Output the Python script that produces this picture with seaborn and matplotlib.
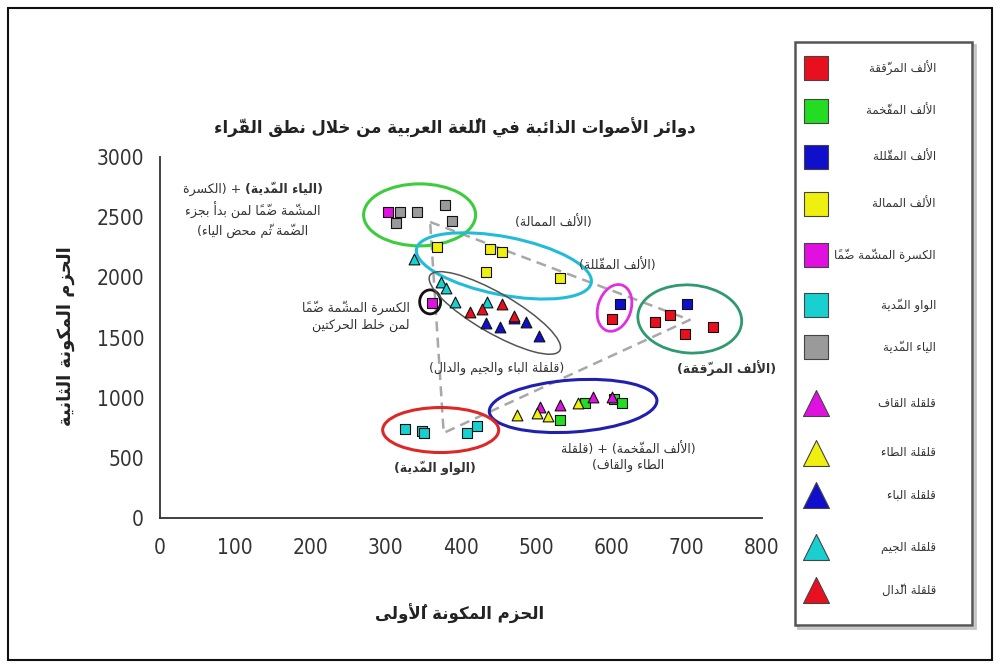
import numpy as np
import pandas as pd
import matplotlib
matplotlib.use("Agg")
import matplotlib.pyplot as plt
from matplotlib import font_manager
import seaborn as sns
from matplotlib.patches import Ellipse, Rectangle
from matplotlib.transforms import ScaledTranslation

# ---------------------------------------------------------------------------
# Arabic shaping: matplotlib lays text out left to right without joining,
# so letters are mapped to their contextual presentation forms and the
# line is reordered for right-to-left display.
# ---------------------------------------------------------------------------
_LETTERS = [
    ('ء', 0xFE80, 'U'), ('آ', 0xFE81, 'R'), ('أ', 0xFE83, 'R'), ('ؤ', 0xFE85, 'R'),
    ('إ', 0xFE87, 'R'), ('ئ', 0xFE89, 'D'), ('ا', 0xFE8D, 'R'), ('ب', 0xFE8F, 'D'),
    ('ة', 0xFE93, 'R'), ('ت', 0xFE95, 'D'), ('ث', 0xFE99, 'D'), ('ج', 0xFE9D, 'D'),
    ('ح', 0xFEA1, 'D'), ('خ', 0xFEA5, 'D'), ('د', 0xFEA9, 'R'), ('ذ', 0xFEAB, 'R'),
    ('ر', 0xFEAD, 'R'), ('ز', 0xFEAF, 'R'), ('س', 0xFEB1, 'D'), ('ش', 0xFEB5, 'D'),
    ('ص', 0xFEB9, 'D'), ('ض', 0xFEBD, 'D'), ('ط', 0xFEC1, 'D'), ('ظ', 0xFEC5, 'D'),
    ('ع', 0xFEC9, 'D'), ('غ', 0xFECD, 'D'), ('ف', 0xFED1, 'D'), ('ق', 0xFED5, 'D'),
    ('ك', 0xFED9, 'D'), ('ل', 0xFEDD, 'D'), ('م', 0xFEE1, 'D'), ('ن', 0xFEE5, 'D'),
    ('ه', 0xFEE9, 'D'), ('و', 0xFEED, 'R'), ('ى', 0xFEEF, 'R'), ('ي', 0xFEF1, 'D'),
]
_JOIN = {c: t for c, _, t in _LETTERS}
_BASE = {c: b for c, b, _ in _LETTERS}
_LAM_ALEF = {'آ': 0xFEF5, 'أ': 0xFEF7, 'إ': 0xFEF9, 'ا': 0xFEFB}


def _is_mark(ch):
    return 0x064B <= ord(ch) <= 0x0652 or ch == '\u0670'


def _jtype(base):
    if base.startswith('LA:'):
        return 'R'
    return _JOIN.get(base, 'U')


def ar(text):
    lines = []
    for line in text.split('\n'):
        clusters = []
        for ch in line:
            if _is_mark(ch) and clusters:
                clusters[-1][1].append(ch)
            else:
                clusters.append([ch, []])
        merged, i = [], 0
        while i < len(clusters):
            b, marks = clusters[i]
            if b == 'ل' and i + 1 < len(clusters) and clusters[i + 1][0] in _LAM_ALEF:
                merged.append(['LA:' + clusters[i + 1][0], marks + clusters[i + 1][1]])
                i += 2
            else:
                merged.append([b, marks])
                i += 1
        glyphs = []
        n = len(merged)
        for i, (b, marks) in enumerate(merged):
            t = _jtype(b)
            prev = i > 0 and _jtype(merged[i - 1][0]) == 'D'
            nxt = t == 'D' and i + 1 < n and _jtype(merged[i + 1][0]) in ('D', 'R')
            if b.startswith('LA:'):
                g = chr(_LAM_ALEF[b[3]] + (1 if prev else 0))
            elif t == 'U':
                g = chr(_BASE[b]) if b in _BASE else b
            elif t == 'R':
                g = chr(_BASE[b] + (1 if prev else 0))
            else:
                k = 3 if (prev and nxt) else 1 if prev else 2 if nxt else 0
                g = chr(_BASE[b] + k)
            glyphs.append(g + ''.join(marks))
        vis = ''.join(reversed(glyphs)).translate(str.maketrans('()', ')('))
        lines.append(vis)
    return '\n'.join(lines)


# ---------------------------------------------------------------------------
# Data: first formant (x) and second formant (y), Hz
# ---------------------------------------------------------------------------
alif_muraqqaqa_x = [601, 658, 678, 698, 735]
alif_muraqqaqa_y = [1652, 1632, 1687, 1530, 1590]

alif_mufakhkhama_x = [532, 565, 603, 614]
alif_mufakhkhama_y = [815, 953, 985, 953]

alif_muqallala_x = [611, 700]
alif_muqallala_y = [1779, 1779]

alif_mumala_x = [368, 438, 455, 433, 532]
alif_mumala_y = [2253, 2234, 2214, 2042, 1993]

kasra_mushamma_x = [303, 361]
kasra_mushamma_y = [2546, 1790]

waw_madd_x = [326, 348, 351, 408, 421]
waw_madd_y = [737, 726, 706, 704, 765]

ya_madd_x = [319, 314, 341, 379, 388]
ya_madd_y = [2541, 2450, 2541, 2602, 2469]

qalqala_qaf_x = [505, 532, 576, 600]
qalqala_qaf_y = [925, 939, 1008, 1005]

qalqala_ta_x = [474, 501, 516, 556]
qalqala_ta_y = [856, 870, 848, 953]

qalqala_ba_x = [433, 452, 471, 487, 503]
qalqala_ba_y = [1624, 1590, 1660, 1632, 1513]

qalqala_jim_x = [337, 374, 380, 392, 434]
qalqala_jim_y = [2153, 1965, 1909, 1798, 1798]

qalqala_dal_x = [412, 428, 455, 470]
qalqala_dal_y = [1715, 1735, 1779, 1679]

# vowel triangle: /i:/, /a:/, /u:/ centres
triangle_x = [359, 704, 377, 359]
triangle_y = [2460, 1646, 707, 2460]

x_ticks = [0, 100, 200, 300, 400, 500, 600, 700, 800]
y_ticks = [0, 500, 1000, 1500, 2000, 2500, 3000]

groups = [
    ('الألف المرقّقة', alif_muraqqaqa_x, alif_muraqqaqa_y, 's', '#e8101e'),
    ('الألف المفخّمة', alif_mufakhkhama_x, alif_mufakhkhama_y, 's', '#22dd22'),
    ('الألف المقلّلة', alif_muqallala_x, alif_muqallala_y, 's', '#1010cc'),
    ('الألف الممالة', alif_mumala_x, alif_mumala_y, 's', '#f0f010'),
    ('الكسرة المشمّة ضمّاً', kasra_mushamma_x, kasra_mushamma_y, 's', '#e010e0'),
    ('الواو المدّية', waw_madd_x, waw_madd_y, 's', '#18d0d0'),
    ('الياء المدّية', ya_madd_x, ya_madd_y, 's', '#9a9a9a'),
    ('قلقلة القاف', qalqala_qaf_x, qalqala_qaf_y, '^', '#e010e0'),
    ('قلقلة الطاء', qalqala_ta_x, qalqala_ta_y, '^', '#f0f010'),
    ('قلقلة الباء', qalqala_ba_x, qalqala_ba_y, '^', '#1010cc'),
    ('قلقلة الجيم', qalqala_jim_x, qalqala_jim_y, '^', '#18d0d0'),
    ('قلقلة الدّال', qalqala_dal_x, qalqala_dal_y, '^', '#e8101e'),
]

frames = []
for name, xs, ys, mk, col in groups:
    frames.append(pd.DataFrame({'x': xs, 'y': ys, 'group': name}))
df = pd.concat(frames, ignore_index=True)

# ---------------------------------------------------------------------------
sns.set_theme(style='white')
plt.rcParams['font.family'] = ['DejaVu Sans']

# narrow face for the axis numbers when one is available
fonts = font_manager.fontManager.ttflist
if any(f.name == 'Liberation Sans Narrow' for f in fonts):
    num_font, num_stretch, num_size = 'Liberation Sans Narrow', 'normal', 16
elif any(f.name == 'DejaVu Sans' and f.stretch == 'condensed' for f in fonts):
    num_font, num_stretch, num_size = 'DejaVu Sans', 'condensed', 15
else:
    num_font, num_stretch, num_size = 'Liberation Sans', 'normal', 15

W, H = 1000, 666
fig = plt.figure(figsize=(W / 100, H / 100), dpi=100)
fig.patch.set_facecolor('white')


def fx(px):
    return px / W


def fy(py):
    return 1 - py / H


ax = fig.add_axes([fx(160), fy(518), (762 - 160) / W, (518 - 157) / H])
ax.set_xlim(0, 800)
ax.set_ylim(0, 3000)
ax.set_facecolor('white')

# formant ellipses (centre in Hz, size in pixels, angle in degrees)
ellipses = [
    (345, 2519, 112, 62, 0, '#3ccc3c', 2.2),
    (457, 2095, 178, 58, -11, '#22bcd8', 2.2),
    (604, 1746, 48, 33, 72, '#e030e0', 2.0),
    (704, 1654, 104, 68, -4, '#2e9a6e', 2.0),
    (359, 1796, 21, 24, 0, '#111111', 2.0),
    (445, 1704, 150, 40, -30, '#555555', 1.1),
    (549, 931, 168, 52, 4, '#2020b0', 2.2),
    (373, 731, 116, 45, 0, '#dd2828', 2.2),
]
for cx, cy, w, h, ang, col, lw in ellipses:
    tr = fig.dpi_scale_trans + ScaledTranslation(cx, cy, ax.transData)
    ax.add_patch(Ellipse((0, 0), w / 100, h / 100, angle=ang, transform=tr,
                         fill=False, edgecolor=col, linewidth=lw, zorder=2))

ax.plot(triangle_x, triangle_y, linestyle=(0, (4, 2.5)), color='#a8a8a8',
        linewidth=1.8, zorder=1.5)

for name, xs, ys, mk, col in groups:
    sub = df[df['group'] == name]
    sns.scatterplot(data=sub, x='x', y='y', marker=mk, color=col,
                    s=46 if mk == 's' else 60, edgecolor='#111111',
                    linewidth=0.8, ax=ax, legend=False, zorder=3)

sns.despine(ax=ax)
for sp in ('left', 'bottom'):
    ax.spines[sp].set_color('#333333')
    ax.spines[sp].set_linewidth(1.3)
ax.set_xticks(x_ticks)
ax.set_yticks(y_ticks)
ax.tick_params(axis='both', direction='inout', length=7, width=1.1,
               color='#333333', labelcolor='#333333', labelsize=num_size,
               labelfontfamily=num_font)
ax.tick_params(axis='x', pad=11)
ax.tick_params(axis='y', pad=8)
for lab in ax.get_xticklabels() + ax.get_yticklabels():
    lab.set_fontstretch(num_stretch)
ax.set_xlabel('')
ax.set_ylabel('')

# titles and axis names
txt_col = '#222222'
fig.text(fx(455), fy(128), ar('دوائر الأصوات الذائبة في اللُّغة العربية من خلال نطق القرّاء'),
         ha='center', va='center', fontsize=12, fontweight='bold', color=txt_col)
fig.text(fx(460), fy(614), ar('الحزم المكونة الأُولى'), ha='center', va='center',
         fontsize=12, fontweight='bold', color=txt_col)
fig.text(fx(66), fy(336), ar('الحزم المكونة الثانية'), ha='center', va='center',
         rotation=90, fontsize=13, fontweight='bold', color=txt_col)

# annotations
ann = '#333333'
fs = 9
line1_bold = fig.text(0, fy(189), ar('(الياء المدّية)'), ha='right', va='center',
                      fontsize=fs, fontweight='bold', color=ann)
line1_rest = fig.text(0, fy(189), ar('+ (الكسرة'), ha='right', va='center',
                      fontsize=fs, color=ann)
fig.text(fx(253), fy(210), ar('المشمّة ضمّاً لمن بدأ بجزء'), ha='center', va='center',
         fontsize=fs, color=ann)
fig.text(fx(253), fy(231), ar('الضمّة ثمّ محض الياء)'), ha='center', va='center',
         fontsize=fs, color=ann)
fig.text(fx(410), fy(316), ar('الكسرة المشمّة ضمّاً\nلمن خلط الحركتين'), ha='right',
         va='center', fontsize=fs, color=ann, multialignment='right', linespacing=1.35)
fig.text(fx(553), fy(222), ar('(الألف الممالة)'), ha='center', va='center',
         fontsize=fs, color=ann)
fig.text(fx(617), fy(265), ar('(الألف المقلّلة)'), ha='center', va='center',
         fontsize=fs, color=ann)
fig.text(fx(727), fy(368), ar('(الألف المرقّقة)'), ha='center', va='center',
         fontsize=fs, fontweight='bold', color=ann)
fig.text(fx(497), fy(368), ar('(قلقلة الباء والجيم والدال)'), ha='center', va='center',
         fontsize=fs, color=ann)
fig.text(fx(628), fy(457), ar('(الألف المفخّمة) + (قلقلة\nالطاء والقاف)'), ha='center',
         va='center', fontsize=fs, color=ann, multialignment='center', linespacing=1.35)
fig.text(fx(435), fy(468), ar('(الواو المدّية)'), ha='center', va='center',
         fontsize=fs, fontweight='bold', color=ann)

# centre the two-weight first line of the upper-left note
fig.canvas.draw()
rend = fig.canvas.get_renderer()
wb = line1_bold.get_window_extent(rend).width
wr = line1_rest.get_window_extent(rend).width
gap = 3
right = 253 + (wb + gap + wr) / 2
line1_bold.set_x(fx(right))
line1_rest.set_x(fx(right - wb - gap))

# legend panel
lx0, ly0, lx1, ly1 = 795, 42, 972, 625
leg = fig.add_axes([fx(lx0), fy(ly1), (lx1 - lx0) / W, (ly1 - ly0) / H])
leg.set_xlim(0, lx1 - lx0)
leg.set_ylim(ly1 - ly0, 0)
leg.axis('off')
leg.add_patch(Rectangle((3, 3), lx1 - lx0, ly1 - ly0, fill=False, edgecolor='#c4c4c4',
                        linewidth=2.0, clip_on=False, zorder=0))
leg.add_patch(Rectangle((0, 0), lx1 - lx0, ly1 - ly0, facecolor='white', edgecolor='#555555',
                        linewidth=1.8, clip_on=False, zorder=1))
row_y = [26, 69, 115, 162, 213, 263, 305, 361, 411, 453, 505, 548]
for (name, xs, ys, mk, col), ry in zip(groups, row_y):
    sns.scatterplot(x=[21], y=[ry], marker=mk, color=col, s=320 if mk == 's' else 350,
                    edgecolor='#444444', linewidth=0.8, ax=leg, legend=False, zorder=3,
                    clip_on=False)
    leg.text(141, ry, ar(name), ha='right', va='center', fontsize=8.5, color='#333333',
             zorder=4)
leg.set_xlabel('')
leg.set_ylabel('')

# outer frame
fig.add_artist(Rectangle((fx(8), fy(660)), (992 - 8) / W, (660 - 8) / H,
                         transform=fig.transFigure, fill=False, edgecolor='#111111',
                         linewidth=1.5))

fig.savefig('out.png', dpi=100)
